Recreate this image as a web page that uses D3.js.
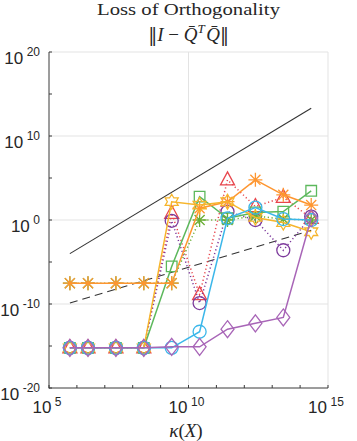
<!DOCTYPE html>
<html>
<head>
<meta charset="utf-8">
<script src="https://cdn.jsdelivr.net/npm/d3@7"></script>
<style>
  body { margin: 0; background: #fff; }
  text { fill: #262626; }
</style>
</head>
<body>
<div id="chart"></div>
<script>
// condition numbers (x axis)
var kappa = [5.6e5, 2.5e6, 2.5e7, 2.5e8, 2.5e9, 2.5e10, 2.5e11, 2.5e12, 2.5e13, 2.5e14];

// loss of orthogonality per method
var redTriangle   = [6e-16, 6e-16, 6e-16, 6e-16, 6.3, 1.3e-9, 6e4, 40, 500, 1.6];
var purpleCircle  = [6e-16, 6e-16, 6e-16, 6e-16, 0.8, 1.3e-10, 10, 1, 2.5e-4, 2.5];
var greenSquare   = [6e-16, 6e-16, 6e-16, 6e-16, 3e-6, 600, 1.6, 8, 10, 3000];
var greenStar     = [3e-8, 3e-8, 3e-8, 3e-8, 3e-8, 1, 1, 3, 1.3, 1];
var orangeStar    = [3e-8, 3e-8, 3e-8, 3e-8, 3e-8, 25, 150, 6e4, 1000, 60];
var yellowHex     = [6e-16, 6e-16, 6e-16, 6e-16, 150, 60, 150, 2, 0.5, 0.04];
var blueCircle    = [6e-16, 6e-16, 6e-16, 6e-16, 6e-16, 5e-14, 1.6, 30, 1.3, 1];
var violetDiamond = [6e-16, 6e-16, 6e-16, 6e-16, 8e-16, 8e-16, 1e-13, 5e-13, 2.5e-12, 1.6];

// reference slopes
var refSolidX = [5.6e5, 2.5e14];
var refSolidY = [1e-4, 2e13];
var refDashX  = [5.6e5, 2.5e14];
var refDashY  = [1.3e-10, 6e-2];

var xTicks = [1e5, 1e10, 1e15];
var xTickExp = ["5", "10", "15"];
var yTicks = [1e20, 1e10, 1e0, 1e-10, 1e-20];
var yTickExp = ["20", "10", "0", "-10", "-20"];

var series = [
  { data: redTriangle,   color: "#e8464d", marker: "triangle", dash: "1.2,2.6" },
  { data: purpleCircle,  color: "#7d3a9c", marker: "circle",   dash: "1.2,2.6" },
  { data: greenSquare,   color: "#5cb85c", marker: "square",   dash: null },
  { data: greenStar,     color: "#6aae35", marker: "asterisk", dash: "1.2,2.6" },
  { data: orangeStar,    color: "#fe9630", marker: "asterisk", dash: null },
  { data: yellowHex,     color: "#f6b52c", marker: "hexagram", dash: null },
  { data: blueCircle,    color: "#3bb7ea", marker: "circle",   dash: null },
  { data: violetDiamond, color: "#a865b7", marker: "diamond",  dash: null }
];

var W = 357, H = 441;
var pL = 49, pR = 328, pT = 52, pB = 388;

var svg = d3.select("#chart").append("svg").attr("width", W).attr("height", H);

var x = d3.scaleLog().domain([1e5, 1e15]).range([pL, pR]);
var y = d3.scaleLog().domain([1e-20, 1e20]).range([pB, pT]);

// grid
var grid = svg.append("g").attr("stroke", "#e3e3e3").attr("stroke-width", 1);
[1e10, 1e15].forEach(function (v) {
  grid.append("line").attr("x1", x(v)).attr("x2", x(v)).attr("y1", pT).attr("y2", pB);
});
[1e20, 1e10, 1e0, 1e-10].forEach(function (v) {
  grid.append("line").attr("x1", pL).attr("x2", pR).attr("y1", y(v)).attr("y2", y(v));
});

// axes lines + inside ticks
var ax = svg.append("g").attr("stroke", "#3a3a3a").attr("stroke-width", 1);
ax.append("line").attr("x1", pL).attr("x2", pL).attr("y1", pT).attr("y2", pB + 0.5);
ax.append("line").attr("x1", pL).attr("x2", pR).attr("y1", pB).attr("y2", pB);
for (var e = 5; e <= 15; e++) {
  var xv = x(Math.pow(10, e));
  ax.append("line").attr("x1", xv).attr("x2", xv).attr("y1", pB).attr("y2", pB - 3);
}
for (var f = -20; f <= 20; f += 5) {
  var yv = y(Math.pow(10, f));
  ax.append("line").attr("x1", pL).attr("x2", pL + 3).attr("y1", yv).attr("y2", yv);
}

// tick labels
var labelFont = "'Liberation Sans', Arial, Helvetica, sans-serif";
xTicks.forEach(function (v, i) {
  var t = svg.append("text").attr("x", x(v) - 2).attr("y", 413)
    .attr("text-anchor", "middle").style("font-family", labelFont).style("font-size", "17px");
  t.append("tspan").text("10");
  t.append("tspan").attr("dx", 3.5).attr("dy", -7.5).style("font-size", "12px").text(xTickExp[i]);
});
yTicks.forEach(function (v, i) {
  var t = svg.append("text").attr("x", 40).attr("y", y(v) + 11.5)
    .attr("text-anchor", "end").style("font-family", labelFont).style("font-size", "17px");
  t.append("tspan").text("10");
  t.append("tspan").attr("dx", 3.5).attr("dy", -7.5).style("font-size", "12px").text(yTickExp[i]);
});

// reference lines
var line = d3.line().x(function (d) { return x(d[0]); }).y(function (d) { return y(d[1]); });
svg.append("path").datum(d3.zip(refSolidX, refSolidY)).attr("d", line)
  .attr("fill", "none").attr("stroke", "#333").attr("stroke-width", 1.1);
svg.append("path").datum(d3.zip(refDashX, refDashY)).attr("d", line)
  .attr("fill", "none").attr("stroke", "#333").attr("stroke-width", 1.1)
  .attr("stroke-dasharray", "8,5");

function markerPath(type) {
  var p = d3.path();
  if (type === "circle") {
    p.arc(0, 0, 6.5, 0, 2 * Math.PI);
  } else if (type === "square") {
    p.rect(-5.3, -5.3, 10.6, 10.6);
  } else if (type === "triangle") {
    p.moveTo(0, -8); p.lineTo(7, 5); p.lineTo(-7, 5); p.closePath();
  } else if (type === "diamond") {
    p.moveTo(0, -8.5); p.lineTo(6.5, 0); p.lineTo(0, 8.5); p.lineTo(-6.5, 0); p.closePath();
  } else if (type === "asterisk") {
    var r = 7, d = r * 0.72;
    p.moveTo(-r, 0); p.lineTo(r, 0);
    p.moveTo(0, -r); p.lineTo(0, r);
    p.moveTo(-d, -d); p.lineTo(d, d);
    p.moveTo(-d, d); p.lineTo(d, -d);
  } else if (type === "hexagram") {
    var R = 7.5, ri = R / Math.sqrt(3);
    for (var k = 0; k < 12; k++) {
      var a = -Math.PI / 2 + k * Math.PI / 6;
      var rr = k % 2 === 0 ? R : ri;
      if (k === 0) p.moveTo(rr * Math.cos(a), rr * Math.sin(a));
      else p.lineTo(rr * Math.cos(a), rr * Math.sin(a));
    }
    p.closePath();
  }
  return p.toString();
}

series.forEach(function (s) {
  var pts = d3.zip(kappa, s.data);
  var g = svg.append("g");
  g.append("path").datum(pts).attr("d", line)
    .attr("fill", "none").attr("stroke", s.color).attr("stroke-width", 1.5)
    .attr("stroke-dasharray", s.dash);
  g.selectAll("path.m").data(pts).enter().append("path").attr("class", "m")
    .attr("transform", function (d) { return "translate(" + x(d[0]) + "," + y(d[1]) + ")"; })
    .attr("d", markerPath(s.marker))
    .attr("fill", "none").attr("stroke", s.color).attr("stroke-width", 1.3);
});

// titles
var serif = "'Liberation Serif', 'Times New Roman', serif";
svg.append("text").attr("x", 188.5).attr("y", 15).attr("text-anchor", "middle")
  .style("font-family", serif).style("font-size", "17.5px")
  .attr("textLength", 183).attr("lengthAdjust", "spacingAndGlyphs")
  .text("Loss of Orthogonality");

var t2 = svg.append("text").attr("x", 188.5).attr("y", 41).attr("text-anchor", "middle")
  .style("font-family", serif).style("font-size", "19px");
t2.append("tspan").style("font-family", "'DejaVu Serif', serif").style("font-size", "18px").text("\u2016");
t2.append("tspan").style("font-style", "italic").text("I");
t2.append("tspan").text(" \u2212 ");
t2.append("tspan").style("font-style", "italic").text("Q\u0304");
t2.append("tspan").attr("dy", -8).style("font-size", "13px").style("font-style", "italic").text("T");
t2.append("tspan").attr("dy", 8).attr("dx", 1.5).style("font-style", "italic").text("Q\u0304");
t2.append("tspan").style("font-family", "'DejaVu Serif', serif").style("font-size", "18px").text("\u2016");

var xl = svg.append("text").attr("x", 186).attr("y", 437).attr("text-anchor", "middle")
  .style("font-family", serif).style("font-size", "19px");
xl.append("tspan").style("font-style", "italic").text("\u03ba");
xl.append("tspan").text("(");
xl.append("tspan").style("font-style", "italic").text("X");
xl.append("tspan").text(")");
</script>
</body>
</html>
